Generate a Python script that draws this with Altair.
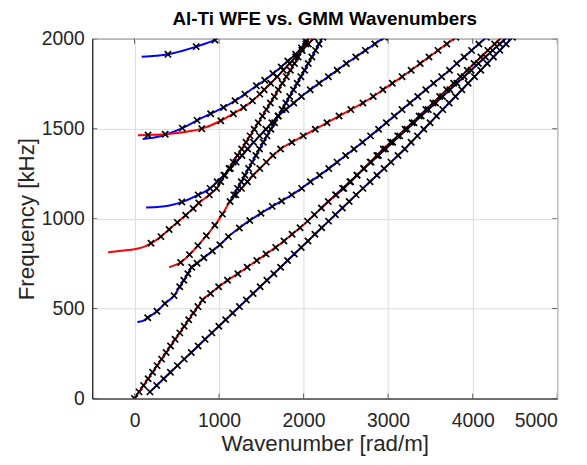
import altair as alt
import pandas as pd

# ---- curves (wavenumber rad/m, frequency kHz) ----
# each curve: k list, f list, indices of points drawn without a GMM marker

A_k = [85, 250, 395, 560, 730, 850, 950, 985]
A_f = [1900, 1905, 1913, 1932, 1956, 1975, 1993, 2004]
A_no = [0, 1, 3, 5, 7]

B_k = [97, 250, 400, 565, 740, 900, 1053, 1189, 1306, 1442, 1540, 1637, 1735, 1813, 1905, 1975, 2025, 2040]
B_f = [1443, 1452, 1472, 1503, 1546, 1583, 1618, 1655, 1692, 1738, 1769, 1806, 1843, 1876, 1913, 1949, 1986, 2004]
B_no = [0, 1, 2, 17]

C_k = [-312, -150, 0, 58, 195, 312, 409, 506, 605, 694, 760, 885, 970, 1019, 1068, 1118, 1167, 1218, 1268,
       1319, 1367, 1416, 1464, 1513, 1559, 1607, 1654, 1701, 1748, 1796, 1844, 1892, 1935, 1981, 2027, 2074]
C_f = [813, 822, 830, 835, 863, 900, 940, 979, 1019, 1056, 1087, 1132, 1168, 1205, 1241, 1278, 1314, 1351, 1387,
       1424, 1460, 1497, 1533, 1570, 1606, 1643, 1679, 1716, 1752, 1789, 1825, 1862, 1898, 1935, 1971, 2008]
C_no = [0, 1, 2, 3]

D_k = [40, 160, 363, 600, 795, 1020, 1170, 1290, 1395, 1482, 1534, 1611, 1688, 1760, 1834, 1906, 1981, 2056, 2125]
D_f = [1463, 1465, 1469, 1482, 1500, 1544, 1583, 1618, 1655, 1692, 1716, 1752, 1789, 1825, 1862, 1898, 1935, 1971, 2004]
D_no = [0, 3]

E_k = [137, 300, 400, 560, 753, 895, 977, 1058, 1135, 1202, 1271, 1338, 1408, 1480, 1553, 1625, 1698, 1790,
       1884, 1975, 2078, 2184, 2293, 2398, 2506, 2617, 2731, 2843, 2957]
E_f = [1062, 1066, 1072, 1092, 1132, 1168, 1205, 1241, 1278, 1314, 1351, 1387, 1424, 1460, 1497, 1533, 1570, 1606,
       1643, 1679, 1716, 1752, 1789, 1825, 1862, 1898, 1935, 1971, 2008]
E_no = [0, 1, 2]

# blue branch from the 426 kHz cut-off, turning into the shallower branch after ~730 kHz
S1_k = [33, 100, 156, 265, 359, 468, 534, 583, 631, 677, 740, 820, 920, 1010, 1111, 1240, 1363, 1496, 1629, 1740,
        1860, 1977, 2080, 2190, 2298, 2396, 2497, 2596, 2697, 2792, 2887, 2979, 3073, 3164, 3258, 3351,
        3446, 3538, 3633, 3726, 3812, 3899, 3987, 4073, 4162]
S1_f = [426, 432, 449, 485, 528, 572, 621, 657, 694, 730, 752, 783, 820, 855, 900, 948, 990, 1030, 1068, 1098,
        1132, 1168, 1205, 1241, 1278, 1314, 1351, 1387, 1424, 1460, 1497, 1533, 1570, 1606, 1643, 1679,
        1716, 1752, 1789, 1825, 1862, 1898, 1935, 1971, 2008]
S1_no = [0, 1]

# red branch from the 730 kHz cut-off, steep, then the shallower branch after ~1100 kHz
R1_k = [409, 470, 546, 650, 750, 850, 950, 1040, 1130, 1198, 1265, 1335, 1402, 1482, 1559, 1637,
        1728, 1861, 1996, 2138, 2277, 2420, 2559, 2702, 2824, 2938, 3050, 3165, 3272, 3379, 3483, 3590, 3694, 3801]
R1_f = [730, 740, 756, 800, 850, 905, 963, 1025, 1095, 1132, 1168, 1205, 1241, 1278, 1314, 1351,
        1387, 1424, 1460, 1497, 1533, 1570, 1606, 1643, 1679, 1716, 1752, 1789, 1825, 1862, 1898, 1935, 1971, 2008]
R1_no = [0, 1]

S2_k = [1130, 1175, 1219, 1263, 1306, 1350, 1392, 1436, 1479, 1523, 1567, 1613, 1657, 1702, 1746, 1791, 1835,
        1880, 1924, 1968, 2012, 2055, 2098, 2141, 2183, 2228]
S2_f = [1095, 1132, 1168, 1205, 1241, 1278, 1314, 1351, 1387, 1424, 1460, 1497, 1533, 1570, 1606, 1643, 1679,
        1716, 1752, 1789, 1825, 1862, 1898, 1935, 1971, 2008]
S2_no = [0]

H_k = [0, 54, 107, 161, 213, 267, 320, 374, 426, 480, 535, 588, 641, 696, 750, 805, 899, 995, 1100, 1222,
       1333, 1446, 1556, 1670, 1768, 1864, 1958, 2047, 2128, 2211, 2292, 2385, 2477, 2556, 2633, 2710, 2787,
       2866, 2942, 3030, 3114, 3200, 3284, 3367, 3447, 3530, 3610, 3692, 3775, 3856, 3936, 4017, 4097, 4180,
       4260, 4342]
H_f = [0, 37, 73, 110, 146, 183, 219, 256, 292, 329, 365, 402, 438, 475, 511, 548, 584, 621, 657, 694,
       730, 767, 803, 840, 876, 913, 949, 986, 1022, 1059, 1095, 1132, 1168, 1205, 1241, 1278, 1314,
       1351, 1387, 1424, 1460, 1497, 1533, 1570, 1606, 1643, 1679, 1716, 1752, 1789, 1825, 1862, 1898, 1935,
       1971, 2008]
H_no = []

I_k = [2211, 2292, 2378, 2461, 2547, 2630, 2716, 2799, 2885, 2968, 3054, 3137, 3223, 3306, 3392, 3475, 3561,
       3644, 3730, 3813, 3899, 3982, 4068, 4151, 4237, 4320, 4406]
I_f = [1059, 1095, 1132, 1168, 1205, 1241, 1278, 1314, 1351, 1387, 1424, 1460, 1497, 1533, 1570, 1606, 1643,
       1679, 1716, 1752, 1789, 1825, 1862, 1898, 1935, 1971, 2008]
I_no = [0, 1]

J_k = [182, 262, 345, 425, 508, 588, 671, 752, 834, 915, 998, 1078, 1161, 1241, 1323, 1403, 1486, 1566, 1648,
       1728, 1810, 1890, 1972, 2052, 2134, 2214, 2296, 2376, 2459, 2539, 2621, 2702, 2786, 2868, 2952, 3034,
       3117, 3197, 3272, 3346, 3422, 3496, 3572, 3646, 3722, 3796, 3872, 3946, 4022, 4096, 4172, 4246, 4322,
       4396, 4472]
J_f = [37, 73, 110, 146, 183, 219, 256, 292, 329, 365, 402, 438, 475, 511, 548, 584, 621, 657, 694,
       730, 767, 803, 840, 876, 913, 949, 986, 1022, 1059, 1095, 1132, 1168, 1205, 1241, 1278, 1314,
       1351, 1387, 1424, 1460, 1497, 1533, 1570, 1606, 1643, 1679, 1716, 1752, 1789, 1825, 1862, 1898, 1935,
       1971, 2008]
J_no = []

curves = [
    ("A", "blue", A_k, A_f, A_no),
    ("B", "blue", B_k, B_f, B_no),
    ("C", "red", C_k, C_f, C_no),
    ("D", "red", D_k, D_f, D_no),
    ("E", "blue", E_k, E_f, E_no),
    ("S2", "blue", S2_k, S2_f, S2_no),
    ("S1", "blue", S1_k, S1_f, S1_no),
    ("R1", "red", R1_k, R1_f, R1_no),
    ("I", "blue", I_k, I_f, I_no),
    ("H", "red", H_k, H_f, H_no),
    ("J", "blue", J_k, J_f, J_no),
]

x_ticks = [0, 1000, 2000, 3000, 4000, 5000]
y_ticks = [0, 500, 1000, 1500, 2000]

rows = []
for ci, (name, col, ks, fs, no) in enumerate(curves):
    for i, (k, f) in enumerate(zip(ks, fs)):
        rows.append({"curve": name, "col": col, "k": k, "f": f, "i": i,
                     "z": ci, "mark": i not in no})
df = pd.DataFrame(rows)

xs = alt.Scale(domain=[-500, 5000], nice=False)
ys = alt.Scale(domain=[0, 2000], nice=False)

x_ax = alt.Axis(values=x_ticks, format="d", title="Wavenumber [rad/m]")
y_ax = alt.Axis(values=y_ticks, format="d", title="Frequency [kHz]")

base = alt.Chart(df)
line_layers = []
for name, col, ks, fs, no in curves:
    line_layers.append(
        base.transform_filter(alt.datum.curve == name).mark_line(
            strokeWidth=2, clip=True, interpolate="monotone",
            color="#ff0000" if col == "red" else "#0000ff",
        ).encode(
            x=alt.X("k:Q", scale=xs, axis=x_ax),
            y=alt.Y("f:Q", scale=ys, axis=y_ax),
            order="i:Q",
        )
    )

pts = base.transform_filter(alt.datum.mark).mark_point(
    shape="M-1,-1L1,1M-1,1L1,-1", filled=False, stroke="#000000", strokeWidth=1.7, size=40, clip=True, opacity=1
).encode(x=alt.X("k:Q", scale=xs), y=alt.Y("f:Q", scale=ys))

# inward ticks on all four sides of the box (MATLAB style)
xt = pd.DataFrame({"k": x_ticks})
yt = pd.DataFrame({"f": y_ticks})
tick_layers = []
for yv in (0, 363):
    tick_layers.append(alt.Chart(xt).mark_tick(orient="vertical", size=10, thickness=1, color="#262626", clip=True)
                       .encode(x=alt.X("k:Q", scale=xs), y=alt.value(yv)))
for xv in (0, 469):
    tick_layers.append(alt.Chart(yt).mark_tick(orient="horizontal", size=10, thickness=1, color="#262626", clip=True)
                       .encode(y=alt.Y("f:Q", scale=ys), x=alt.value(xv)))

chart = alt.layer(*line_layers, pts, *tick_layers).properties(
    width=469, height=363,
    title=alt.TitleParams("Al-Ti WFE vs. GMM Wavenumbers", fontSize=19, fontWeight="bold",
                          font="Liberation Sans", color="#000000", anchor="middle", frame="group", offset=0),
    autosize=alt.AutoSizeParams(type="none"),
    padding={"left": 85, "top": 29, "right": 22, "bottom": 57},
).configure_view(stroke="#262626", strokeWidth=1).configure_axis(
    labelFont="Liberation Sans", titleFont="Liberation Sans", labelFontSize=19.5, titleFontSize=22.5,
    labelColor="#262626", titleColor="#262626", titleFontWeight="normal",
    grid=True, gridColor="#dcdcdc", gridWidth=1, domainColor="#262626", tickColor="#262626",
    tickSize=0,
).configure_axisX(labelPadding=13, titlePadding=3).configure_axisY(labelPadding=8, titlePadding=3)

chart.save("out.html", embed_options={"renderer": "svg", "actions": False})
